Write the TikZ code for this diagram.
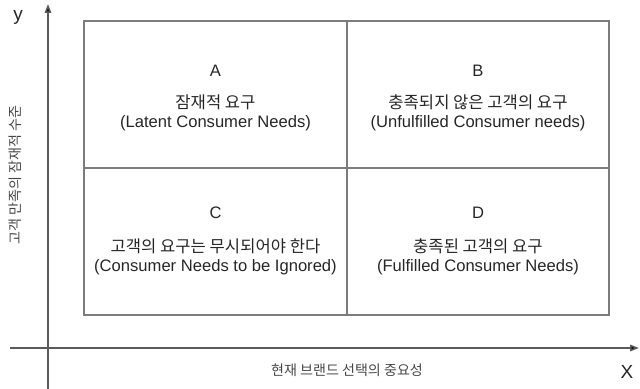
\documentclass[tikz,border=0pt]{standalone}
\usepackage{fontspec}
\setmainfont{Liberation Sans}
\newfontfamily\krfont{Noto Sans CJK KR}
\usetikzlibrary{arrows.meta}
\definecolor{boxgray}{HTML}{7C7C7C}
\definecolor{axisgray}{HTML}{5A5A5A}
\definecolor{textgray}{HTML}{262626}

\begin{document}
\begin{tikzpicture}[x=0.025cm,y=-0.025cm,
	axis/.style={line width=1.1pt,draw=axisgray,-{Triangle[length=2.2mm,width=1.6mm,fill=black]}},
	boxline/.style={line width=0.75pt,draw=boxgray},
	letter/.style={font=\fontsize{11.8}{13}\selectfont,text=textgray},
	needs/.style={align=center,font=\fontsize{11.8}{13.8}\selectfont,text=textgray},
	axislabel/.style={font=\krfont\fontsize{10}{12}\selectfont,text=textgray!85},
	axisname/.style={font=\fontsize{13.5}{15}\selectfont,text=textgray}]

\def\width{640}
\def\height{389}
\def\bxl{84}
\def\bxr{609}
\def\byt{21}
\def\byb{315}
\def\midx{347}
\def\midy{168}

\path [use as bounding box] (0,0) rectangle (\width,\height);

% Axes
\coordinate (xstart) at (10,348);
\coordinate (xend) at (639,348);
\coordinate (ystart) at (48,389);
\coordinate (yend) at (48,4);
\draw [axis] (xstart) -- (xend);
\draw [axis] (ystart) -- (yend);

% Box
\draw [boxline] (\bxl,\byt) rectangle (\bxr,\byb);
\draw [boxline] (\midx,\byt) -- (\midx,\byb);
\draw [boxline] (\bxl,\midy) -- (\bxr,\midy);

% Quadrants
\node [letter] (qa) at (215.5,71) {A};
\node [needs] (qatext) at (215.5,113) {{\krfont 잠재적 요구}\\(Latent Consumer Needs)};

\node [letter] (qb) at (478,71) {B};
\node [needs] (qbtext) at (478,113) {{\krfont 충족되지 않은 고객의 요구}\\(Unfulfilled Consumer needs)};

\node [letter] (qc) at (215.5,213) {C};
\node [needs] (qctext) at (215.5,257) {{\krfont 고객의 요구는 무시되어야 한다}\\(Consumer Needs to be Ignored)};

\node [letter] (qd) at (478,213) {D};
\node [needs] (qdtext) at (478,257) {{\krfont 충족된 고객의 요구}\\(Fulfilled Consumer Needs)};

% Axis labels
\node [axisname] (ylabel) at (18,17) {y};
\node [axisname] (xlabel) at (627,372) {X};
\node [axislabel,rotate=90] (ytitle) at (15,175) {고객 만족의 잠재적 수준};
\node [axislabel] (xtitle) at (347,370) {현재 브랜드 선택의 중요성};

\end{tikzpicture}
\end{document}
